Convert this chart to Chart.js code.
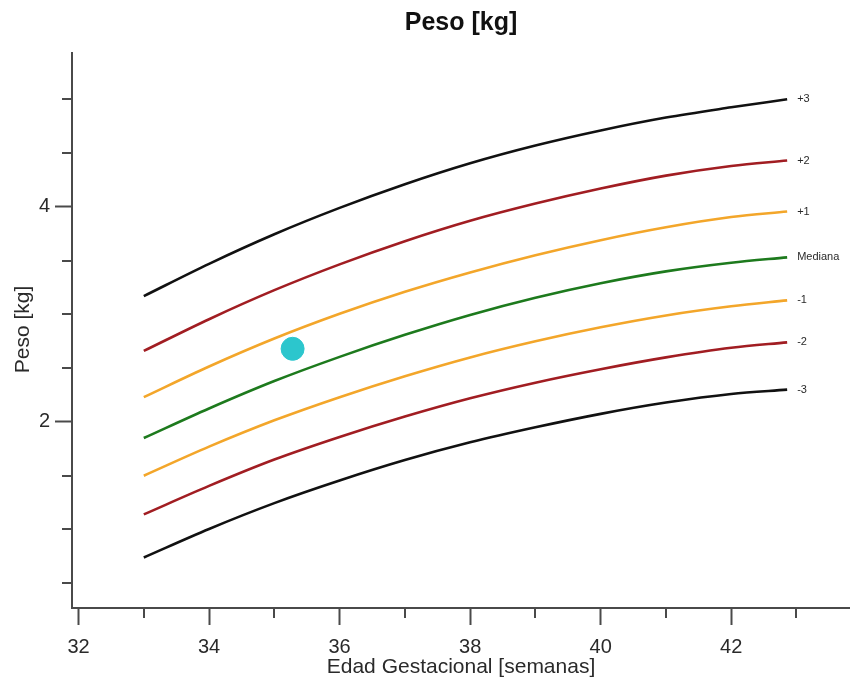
<!DOCTYPE html>
<html>
<head>
<meta charset="utf-8">
<script src="https://cdn.jsdelivr.net/npm/chart.js@4/dist/chart.umd.min.js"></script>
<style>
  html, body { margin: 0; padding: 0; background: #ffffff; }
  #wrap { width: 850px; height: 685px; }
</style>
</head>
<body>
<div id="wrap"><canvas id="c" width="850" height="685"></canvas></div>
<script>
// Gestational age (weeks) at which the reference curves are sampled
const weeks = [33, 34, 35, 36, 37, 38, 39, 40, 41, 42, 42.857];

// Birth-weight reference curves (kg), by standard deviation
const sdPlus3  = [3.17, 3.47, 3.745, 3.99, 4.21, 4.405, 4.57, 4.71, 4.83, 4.925, 5.00];
const sdPlus2  = [2.66, 2.955, 3.225, 3.465, 3.68, 3.87, 4.03, 4.17, 4.29, 4.38, 4.43];
const sdPlus1  = [2.23, 2.515, 2.775, 3.005, 3.21, 3.39, 3.55, 3.69, 3.81, 3.905, 3.956];
const median   = [1.85, 2.125, 2.38, 2.605, 2.81, 2.995, 3.155, 3.29, 3.40, 3.48, 3.53];
const sdMinus1 = [1.50, 1.77, 2.015, 2.23, 2.425, 2.60, 2.75, 2.88, 2.99, 3.075, 3.13];
const sdMinus2 = [1.14, 1.405, 1.65, 1.86, 2.05, 2.22, 2.365, 2.49, 2.60, 2.69, 2.74];
const sdMinus3 = [0.74, 1.005, 1.245, 1.455, 1.645, 1.81, 1.95, 2.075, 2.18, 2.26, 2.30];

// Curve names shown at the right end of each line
const curveLabels = ['+3', '+2', '+1', 'Mediana', '-1', '-2', '-3'];

// The measured newborn
const patientWeek = [35.28];
const patientWeight = [2.68];

// Axis ticks and their labels (unlabelled ticks are drawn shorter)
const xTickValues = [32, 33, 34, 35, 36, 37, 38, 39, 40, 41, 42, 43];
const xTickLabels = ['32', '', '34', '', '36', '', '38', '', '40', '', '42', ''];
const yTickValues = [0.5, 1.0, 1.5, 2.0, 2.5, 3.0, 3.5, 4.0, 4.5, 5.0];
const yTickLabels = ['', '', '', '2', '', '', '', '4', '', ''];
const yAxisTitle = 'Peso [kg]';

const FONT = "'Liberation Sans', Arial, Helvetica, sans-serif";
const AXIS = '#4a4a4a';
const TEXT = '#2a2a2a';
const BLACK = '#111111';
const RED = '#a11d22';
const ORANGE = '#f3a62a';
const GREEN = '#1d7a1d';
const CYAN = '#2cc6cd';

const curves = [sdPlus3, sdPlus2, sdPlus1, median, sdMinus1, sdMinus2, sdMinus3];
const curveColors = [BLACK, RED, ORANGE, GREEN, ORANGE, RED, BLACK];

const lineSets = curves.map((vals, i) => ({
  type: 'line',
  label: curveLabels[i],
  endLabel: curveLabels[i],
  data: weeks.map((w, k) => ({ x: w, y: vals[k] })),
  borderColor: curveColors[i],
  borderWidth: 2.6,
  pointRadius: 0,
  fill: false,
  cubicInterpolationMode: 'monotone',
  order: 1
}));

const pointSet = {
  type: 'scatter',
  label: 'RN',
  data: patientWeek.map((w, k) => ({ x: w, y: patientWeight[k] })),
  backgroundColor: CYAN,
  borderColor: CYAN,
  pointRadius: 11.5,
  order: 0
};

// Short minor ticks, the rotated y title and the curve names at the line ends
const chartExtras = {
  id: 'chartExtras',
  afterDraw(chart) {
    const { ctx, chartArea, scales } = chart;
    ctx.save();
    ctx.strokeStyle = AXIS;
    ctx.lineWidth = 2;
    xTickValues.forEach((v, i) => {
      if (xTickLabels[i]) return;
      const px = Math.round(scales.x.getPixelForValue(v));
      ctx.beginPath();
      ctx.moveTo(px, chartArea.bottom);
      ctx.lineTo(px, chartArea.bottom + 10);
      ctx.stroke();
    });
    yTickValues.forEach((v, i) => {
      if (yTickLabels[i]) return;
      const py = Math.round(scales.y.getPixelForValue(v));
      ctx.beginPath();
      ctx.moveTo(chartArea.left, py);
      ctx.lineTo(chartArea.left - 10, py);
      ctx.stroke();
    });

    // y axis title
    ctx.save();
    ctx.translate(23, scales.y.getPixelForValue(2.86));
    ctx.rotate(-Math.PI / 2);
    ctx.font = '21px ' + FONT;
    ctx.fillStyle = TEXT;
    ctx.textAlign = 'center';
    ctx.textBaseline = 'middle';
    ctx.fillText(yAxisTitle, 0, 0);
    ctx.restore();

    ctx.font = '11px ' + FONT;
    ctx.fillStyle = TEXT;
    ctx.textAlign = 'left';
    ctx.textBaseline = 'middle';
    chart.data.datasets.forEach((ds, i) => {
      if (!ds.endLabel) return;
      const pts = chart.getDatasetMeta(i).data;
      const last = pts[pts.length - 1];
      ctx.fillText(ds.endLabel, last.x + 10, last.y);
    });
    ctx.restore();
  }
};

new Chart(document.getElementById('c'), {
  data: { datasets: [pointSet, ...lineSets] },
  options: {
    responsive: false,
    animation: false,
    layout: { padding: 0, autoPadding: false },
    plugins: {
      legend: { display: false },
      tooltip: { enabled: false },
      title: {
        display: true,
        text: 'Peso [kg]',
        fullSize: false,
        color: '#111',
        font: { family: FONT, size: 25, weight: 'bold' },
        padding: { top: 8, bottom: 15 }
      }
    },
    scales: {
      x: {
        type: 'linear',
        min: 31.9,
        max: 43.82,
        afterBuildTicks: s => { s.ticks = xTickValues.map(v => ({ value: v })); },
        afterFit: s => { s.height = 77; s.paddingLeft = 0; s.paddingRight = 0; },
        ticks: {
          autoSkip: false,
          maxRotation: 0,
          padding: 10,
          color: TEXT,
          font: { family: FONT, size: 20 },
          callback: (v, i) => xTickLabels[i]
        },
        grid: {
          drawOnChartArea: false,
          drawTicks: true,
          tickLength: 17,
          tickWidth: 2,
          tickColor: ctx => (xTickLabels[ctx.index] ? AXIS : 'rgba(0,0,0,0)')
        },
        border: { display: true, color: AXIS, width: 2 },
        title: {
          display: true,
          text: 'Edad Gestacional [semanas]',
          color: TEXT,
          font: { family: FONT, size: 21 },
          padding: { top: 0, bottom: 5 }
        }
      },
      y: {
        type: 'linear',
        min: 0.27,
        max: 5.43,
        afterBuildTicks: s => { s.ticks = yTickValues.map(v => ({ value: v })); },
        afterFit: s => { s.width = 72; },
        ticks: {
          autoSkip: false,
          padding: 5,
          color: TEXT,
          font: { family: FONT, size: 20 },
          callback: (v, i) => yTickLabels[i]
        },
        grid: {
          drawOnChartArea: false,
          drawTicks: true,
          tickLength: 17,
          tickWidth: 2,
          tickColor: ctx => (yTickLabels[ctx.index] ? AXIS : 'rgba(0,0,0,0)')
        },
        border: { display: true, color: AXIS, width: 2 },
        title: { display: false }
      }
    }
  },
  plugins: [chartExtras]
});
</script>
</body>
</html>
